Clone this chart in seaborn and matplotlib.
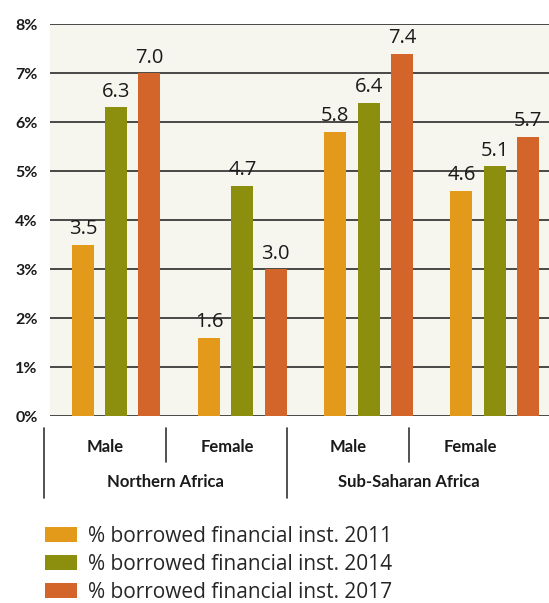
import pandas as pd
import seaborn as sns
import matplotlib.pyplot as plt
from matplotlib.lines import Line2D

# data
regions = ['Northern Africa', 'Northern Africa', 'Sub-Saharan Africa', 'Sub-Saharan Africa']
genders = ['Male', 'Female', 'Male', 'Female']
series = ['% borrowed financial inst. 2011',
          '% borrowed financial inst. 2014',
          '% borrowed financial inst. 2017']
v2011 = [3.5, 1.6, 5.8, 4.6]
v2014 = [6.3, 4.7, 6.4, 5.1]
v2017 = [7.0, 3.0, 7.4, 5.7]
colors = ['#E39A1B', '#8C8F0E', '#D4652A']

cats = [f'{r}|{g}' for r, g in zip(regions, genders)]
rows = []
for name, vals in zip(series, [v2011, v2014, v2017]):
    for c, v in zip(cats, vals):
        rows.append({'cat': c, 'series': name, 'value': v})
df = pd.DataFrame(rows)

sns.set_style('white')
plt.rcParams['font.family'] = ['Open Sans', 'DejaVu Sans']
bold_font = ['Lato', 'DejaVu Sans']

fig = plt.figure(figsize=(5.49, 6.03), dpi=100)
ax = fig.add_axes([0.0911, 0.310, 0.909, 0.650])
ax.set_facecolor('#F7F6EE')

sns.barplot(data=df, x='cat', y='value', hue='series', order=cats,
            hue_order=series, palette=colors, width=0.792, gap=0.34,
            saturation=1, linewidth=0, ax=ax, legend=True)

for cont in ax.containers:
    ax.bar_label(cont, fmt='%.1f', padding=4, fontsize=14.5, color='#1a1a1a')

# plot area is cut off on the right in the original
ax.set_ylim(0, 8)
ax.set_xlim(-0.524, 3.43)
ax.set_yticks(range(0, 9))
ax.set_yticklabels([f'{i}%' for i in range(0, 9)], fontsize=11.5,
                   fontweight='bold', color='#1a1a1a', family=bold_font)
ax.tick_params(axis='y', length=0, pad=9)
ax.set_xticks([])
ax.set_xlabel('')
ax.set_ylabel('')
ax.yaxis.grid(True, color='#2a2a2a', linewidth=1.2)
ax.set_axisbelow(True)
for s in ax.spines.values():
    s.set_visible(False)

# two-level category axis below the plot
trans = ax.transAxes
gender_x = [0.110, 0.355, 0.597, 0.842]
for x, g in zip(gender_x, genders):
    ax.text(x, -0.079, g, transform=trans, ha='center', va='center',
            fontsize=12, fontweight='bold', color='#1a1a1a', family=bold_font)
for x, r in zip([0.232, 0.719], ['Northern Africa', 'Sub-Saharan Africa']):
    ax.text(x, -0.168, r, transform=trans, ha='center', va='center',
            fontsize=12, fontweight='bold', color='#1a1a1a', family=bold_font)
for x, bottom in zip([-0.012, 0.232, 0.475, 0.719], [-0.209, -0.117, -0.209, -0.117]):
    ax.add_line(Line2D([x, x], [-0.031, bottom], transform=trans,
                       color='#333333', linewidth=1.2, clip_on=False))

handles, labels = ax.get_legend_handles_labels()
ax.get_legend().remove()
fig.legend(handles, labels, loc='upper left', bbox_to_anchor=(0.082, 0.128),
           frameon=False, fontsize=15, handlelength=1.54, handleheight=0.72,
           handletextpad=0.5, labelspacing=0.33, borderpad=0, borderaxespad=0)

fig.savefig('out.png', dpi=100, facecolor='white')
